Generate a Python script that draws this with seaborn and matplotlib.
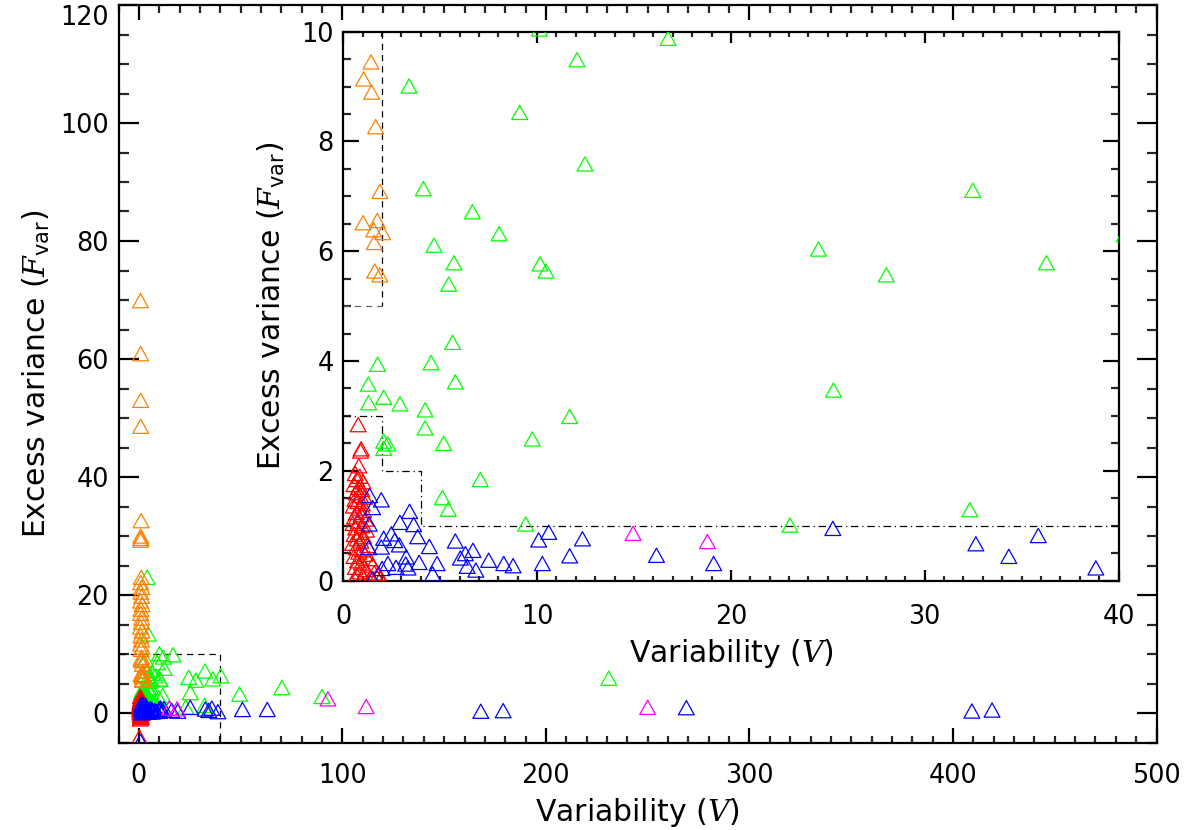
import numpy as np
import pandas as pd
import matplotlib
matplotlib.use("Agg")
import matplotlib.pyplot as plt
from matplotlib.ticker import MultipleLocator
from matplotlib.path import Path
import seaborn as sns

# ---------------- data ----------------
V_green = [10.12, 16.76, 12.06, 3.39, 9.10, 12.47, 4.13, 6.66, 8.04, 4.68, 5.71, 10.15, 10.46, 5.44,
           32.48, 24.52, 28.02, 36.28, 40.3, 25.29, 23.05, 32.33,
           5.64, 1.77, 4.53, 5.78, 1.29, 2.08, 1.31, 2.92, 4.22, 11.68, 4.22, 9.75, 2.08, 2.29, 2.08,
           5.18, 7.07, 5.11, 5.42, 9.41,
           4.1, 4.6, 49.5, 70.3, 90.0, 230.9]
F_green = [10.05, 9.88, 9.49, 9.01, 8.53, 7.59, 7.14, 6.72, 6.32, 6.11, 5.79, 5.77, 5.64, 5.40,
           7.11, 6.04, 5.57, 5.79, 6.30, 3.47, 1.01, 1.29,
           4.34, 3.94, 3.97, 3.62, 3.58, 3.34, 3.24, 3.22, 3.11, 2.99, 2.78, 2.58, 2.54, 2.49, 2.41,
           2.50, 1.84, 1.51, 1.30, 1.03,
           23.0, 13.4, 3.2, 4.3, 2.8, 5.9]

V_orange = [1.43, 1.05, 1.46, 1.67, 1.89, 1.02, 1.75, 1.57, 2.03, 1.60, 1.62, 1.89,
            0.8, 0.9, 0.9, 0.9, 1.1, 0.9, 1.0, 0.8,
            1.2, 0.9, 1.5, 1.0, 1.3, 0.8, 1.6, 1.1, 0.9, 1.4, 1.2, 0.8, 1.5, 1.0, 1.3, 0.9, 1.6, 1.1]
F_orange = [9.45, 9.14, 8.90, 8.27, 7.09, 6.52, 6.56, 6.39, 6.34, 6.16, 5.64, 5.57,
            69.9, 60.9, 53.0, 48.6, 32.6, 30.0, 29.6, 29.3,
            23.0, 22.1, 21.3, 20.5, 19.8, 19.0, 18.4, 17.6, 16.9, 16.1, 15.4, 14.6, 13.9, 13.1, 12.4,
            11.7, 11.2, 10.8]

V_red = [0.77, 0.89, 0.92, 0.80,
         0.62, 0.85, 0.70, 1.02, 0.55, 0.78, 0.95, 0.66, 0.88, 1.10, 0.60, 0.75, 0.98, 0.52, 0.83,
         1.05, 0.68, 0.92, 0.58, 1.15, 0.77, 0.50, 0.96, 0.64, 1.20, 0.85, 0.56, 1.05, 0.72, 0.90,
         0.48, 1.25, 0.66, 0.98, 0.80, 1.12, 0.55, 1.35, 0.74, 0.94, 1.50, 0.62, 1.18, 0.86, 1.60,
         1.81, 0.70, 1.02, 1.40, 0.58, 1.92,
         0.7, 1.0, 0.8, 1.2, 0.6, 0.9, 1.1, 0.3]
F_red = [2.84, 2.36, 2.40, 2.09,
         1.95, 1.90, 1.84, 1.80, 1.75, 1.70, 1.66, 1.60, 1.55, 1.52, 1.48, 1.44, 1.40, 1.36, 1.32,
         1.28, 1.24, 1.20, 1.16, 1.12, 1.08, 1.04, 1.00, 0.96, 0.92, 0.88, 0.84, 0.80, 0.76, 0.72,
         0.68, 0.64, 0.60, 0.56, 0.52, 0.48, 0.44, 0.40, 0.36, 0.32, 0.28, 0.24, 0.20, 0.16, 0.14,
         0.13, 0.10, 0.08, 0.06, 0.04, 0.03,
         -0.2, -0.4, -0.6, -0.8, -1.0, -0.3, -0.7, -4.1]

V_blue = [1.36, 1.96, 1.51, 3.42, 2.92, 1.34, 3.63, 2.48, 3.84, 2.08, 2.65, 5.78, 10.6, 10.08,
          12.34, 2.89, 4.44, 1.96, 1.31, 3.25, 6.30, 6.69, 6.04, 11.68, 16.16, 7.50, 8.28, 8.76,
          10.27, 19.11, 4.84, 3.91, 6.39, 2.30, 2.72, 3.34, 6.84, 4.61, 1.51, 3.22, 2.0,
          25.26, 32.64, 34.34, 35.86, 38.83,
          50.9, 63.1, 168.0, 179.0, 269.0, 409.3, 419.2, 0.8]
F_blue = [1.55, 1.47, 1.33, 1.26, 1.06, 1.03, 1.02, 0.85, 0.80, 0.77, 0.73, 0.72, 0.88, 0.74,
          0.76, 0.65, 0.62, 0.61, 0.60, 0.43, 0.49, 0.55, 0.41, 0.45, 0.46, 0.37, 0.31, 0.27,
          0.31, 0.31, 0.31, 0.33, 0.26, 0.31, 0.24, 0.23, 0.19, 0.12, 0.03, 0.30, 0.22,
          0.95, 0.67, 0.44, 0.82, 0.23,
          0.6, 0.6, 0.3, 0.4, 0.9, 0.34, 0.5, -4.8]

V_magenta = [14.95, 18.79, 92.9, 111.7, 250.0]
F_magenta = [0.86, 0.71, 2.4, 1.1, 0.97]

groups = ["green", "orange", "red", "blue", "magenta"]
palette = {"green": "#00FF00", "orange": "#FF8000", "red": "#FF0000",
           "blue": "#0000FF", "magenta": "#FF00FF"}

# reference boxes
main_box_x = [-10, 40, 40]
main_box_y = [10, 10, -5]
in_dash1_x = [2, 2]
in_dash1_y = [10, 5]
in_dash2_x = [0, 2]
in_dash2_y = [5, 5]
in_dd_x = [0, 2, 2, 4, 4, 40]
in_dd_y = [3, 3, 2, 2, 1, 1]

df = pd.concat([
    pd.DataFrame({"V": V_green, "F": F_green, "g": "green"}),
    pd.DataFrame({"V": V_orange, "F": F_orange, "g": "orange"}),
    pd.DataFrame({"V": V_red, "F": F_red, "g": "red"}),
    pd.DataFrame({"V": V_blue, "F": F_blue, "g": "blue"}),
    pd.DataFrame({"V": V_magenta, "F": F_magenta, "g": "magenta"}),
], ignore_index=True)

# ---------------- style ----------------
sns.set_theme(style="white")
plt.rcParams["font.family"] = ["DejaVu Sans"]
plt.rcParams["mathtext.fontset"] = "custom"
plt.rcParams["mathtext.it"] = "DejaVu Serif:italic"
plt.rcParams["mathtext.rm"] = "DejaVu Sans"
plt.rcParams["axes.edgecolor"] = "black"
plt.rcParams["axes.linewidth"] = 1.6
plt.rcParams["text.color"] = "black"
plt.rcParams["axes.labelcolor"] = "black"

FS = 18.4      # tick labels
LFS = 21.5     # axis titles
tri = Path([(0, 0.9), (-1, -0.9), (1, -0.9), (0, 0.9)],
           [Path.MOVETO, Path.LINETO, Path.LINETO, Path.CLOSEPOLY])

fig = plt.figure(figsize=(11.92, 8.30), dpi=100)
ax = fig.add_axes([118.5 / 1192, 1 - 742.5 / 830, (1156.5 - 118.5) / 1192, (742.5 - 5) / 830])
axin = fig.add_axes([343.3 / 1192, 1 - 580.5 / 830, (1118.5 - 343.3) / 1192, (580.5 - 31.7) / 830])


def draw(a):
    sns.scatterplot(data=df, x="V", y="F", hue="g", palette=palette, hue_order=groups,
                    marker=tri, s=130, linewidth=0.9, legend=False, ax=a, zorder=3)
    for coll in a.collections:
        fc = coll.get_facecolors()
        coll.set_edgecolors(fc)
        coll.set_facecolors("none")


def style(a, xmaj, xmin, ymaj, ymin, xl, yl, xpad, ypad):
    a.xaxis.set_major_locator(MultipleLocator(xmaj))
    a.xaxis.set_minor_locator(MultipleLocator(xmin))
    a.yaxis.set_major_locator(MultipleLocator(ymaj))
    a.yaxis.set_minor_locator(MultipleLocator(ymin))
    a.tick_params(axis="x", which="major", direction="in", length=xl, width=1.6,
                  top=True, bottom=True, pad=xpad, labelsize=FS, colors="black")
    a.tick_params(axis="x", which="minor", direction="in", length=xl / 2, width=1.6,
                  top=True, bottom=True)
    a.tick_params(axis="y", which="major", direction="in", length=yl, width=1.6,
                  left=True, right=True, pad=ypad, labelsize=FS, colors="black")
    a.tick_params(axis="y", which="minor", direction="in", length=yl / 2, width=1.6,
                  left=True, right=True)
    for sp in a.spines.values():
        sp.set_color("black")
        sp.set_linewidth(1.6)
    a.grid(False)


# main axes
draw(ax)
ax.plot(main_box_x, main_box_y, color="black", lw=0.9, ls=(0, (5, 4)), zorder=2)
ax.set_xlim(-10, 500)
ax.set_ylim(-5, 120)
style(ax, 100, 10, 20, 5, 10.8, 14.4, 15, 7)
ax.set_xlabel("Variability ($V$)", fontsize=LFS, labelpad=5)
ax.set_ylabel(r"Excess variance ($F_{\rm var}$)", fontsize=LFS, labelpad=6)

# inset axes
axin.set_facecolor("white")
draw(axin)
axin.plot(in_dash1_x, in_dash1_y, color="black", lw=0.9, ls=(0, (5, 4)), zorder=2)
axin.plot(in_dash2_x, in_dash2_y, color="0.4", lw=0.9, ls=(0, (5, 4)), zorder=2)
axin.plot(in_dd_x, in_dd_y, color="black", lw=0.9, ls=(0, (6, 3, 1, 3)), zorder=2)
axin.set_xlim(0, 40)
axin.set_ylim(0, 10)
style(axin, 10, 1, 2, 0.5, 7.9, 11.2, 17, 7)
axin.set_xlabel("Variability ($V$)", fontsize=LFS, labelpad=5)
axin.set_ylabel(r"Excess variance ($F_{\rm var}$)", fontsize=LFS, labelpad=10)

# the top label of the main y axis sits just inside the figure, as in the reference
fig.canvas.draw()
for t in ax.yaxis.get_major_ticks():
    if abs(t.get_loc() - 120) < 1e-6:
        t.label1.set_va("top")

fig.savefig("out.png", dpi=100)
